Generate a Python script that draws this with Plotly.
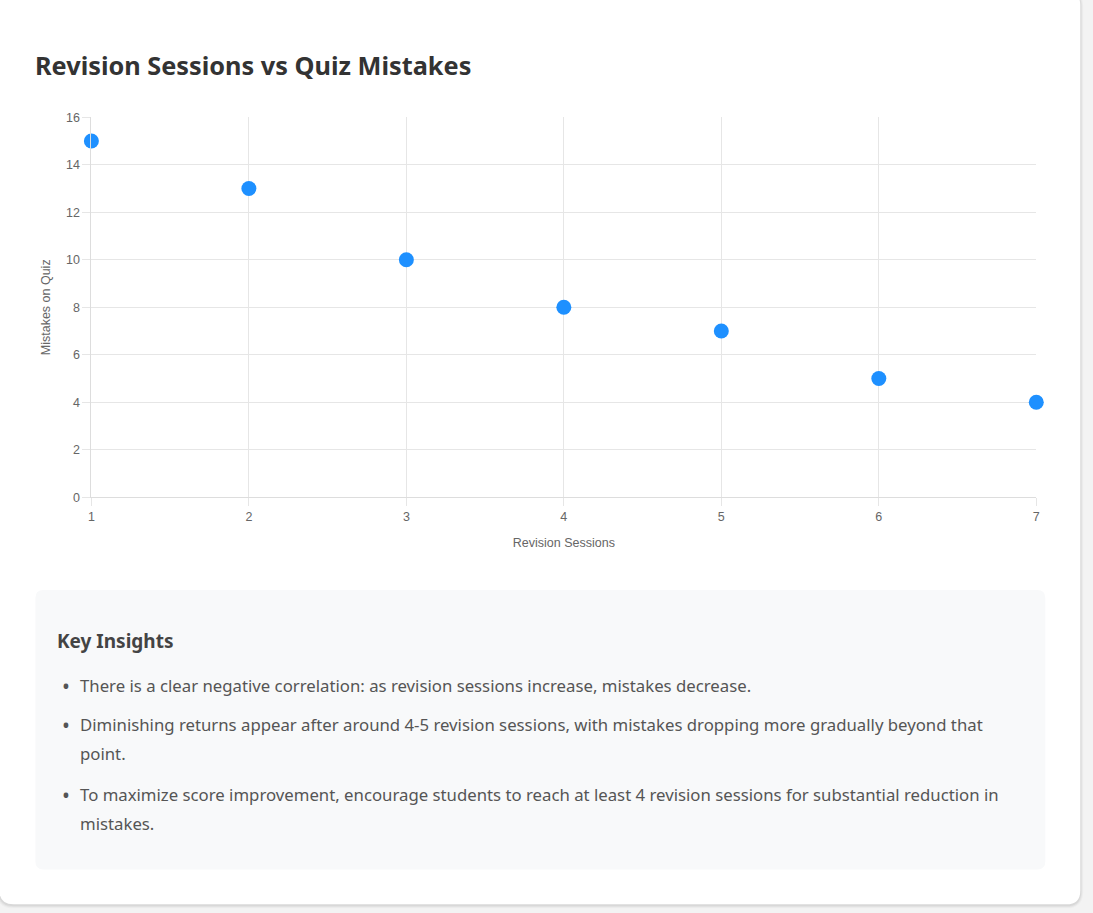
import plotly.graph_objects as go

W, H = 1093, 913

sessions = [1, 2, 3, 4, 5, 6, 7]
mistakes = [15, 13, 10, 8, 7, 5, 4]

title_text = "Revision Sessions vs Quiz Mistakes"
x_title = "Revision Sessions"
y_title = "Mistakes on Quiz"
insights_title = "Key Insights"
insights = [
    ["There is a clear negative correlation: as revision sessions increase, mistakes decrease."],
    ["Diminishing returns appear after around 4-5 revision sessions, with mistakes dropping more gradually beyond that",
     "point."],
    ["To maximize score improvement, encourage students to reach at least 4 revision sessions for substantial reduction in",
     "mistakes."],
]

# empirical correction of the rendering transform
AX, BX = 0.9937, 2.6
AY, BY = 0.987, 5.5


def px(x):
    return ((x - BX) / AX) / W


def py(y):
    return 1 - ((y - BY) / AY) / H


def rrect(x0, y0, x1, y1, r):
    pts = [
        f"M {px(x0 + r)},{py(y0)}",
        f"L {px(x1 - r)},{py(y0)}",
        f"Q {px(x1)},{py(y0)} {px(x1)},{py(y0 + r)}",
        f"L {px(x1)},{py(y1 - r)}",
        f"Q {px(x1)},{py(y1)} {px(x1 - r)},{py(y1)}",
        f"L {px(x0 + r)},{py(y1)}",
        f"Q {px(x0)},{py(y1)} {px(x0)},{py(y1 - r)}",
        f"L {px(x0)},{py(y0 + r)}",
        f"Q {px(x0)},{py(y0)} {px(x0 + r)},{py(y0)}",
        "Z",
    ]
    return " ".join(pts)


fig = go.Figure()
fig.add_trace(go.Scatter(
    x=sessions, y=mistakes, mode="markers",
    marker=dict(size=15, color="#1e90ff", line=dict(width=0)),
    showlegend=False, cliponaxis=False,
))

shapes = []
# card shadow
for i, op in enumerate([0.025, 0.035, 0.05]):
    d = 3 - i
    shapes.append(dict(type="path", xref="paper", yref="paper", layer="below",
                       path=rrect(-1 - d, -10 - d + 1, 1080 + d, 905 + d + 1, 14 + d),
                       fillcolor=f"rgba(0,0,0,{op})", line=dict(width=0)))
shapes.append(dict(type="path", xref="paper", yref="paper", layer="below",
                   path=rrect(-1, -10, 1080, 905, 14),
                   fillcolor="#ffffff", line=dict(width=0)))
# insights box
shapes.append(dict(type="path", xref="paper", yref="paper", layer="below",
                   path=rrect(35, 590, 1045, 870, 8),
                   fillcolor="#f8f9fa", line=dict(width=0)))

annotations = []
annotations.append(dict(text=f"<b>{title_text}</b>", x=px(33), y=py(64), xref="paper", yref="paper",
                        xanchor="left", yanchor="middle", showarrow=False,
                        font=dict(family="Noto Sans", size=25.3, color="#333333")))
annotations.append(dict(text=f"<b>{insights_title}</b>", x=px(55), y=py(641), xref="paper", yref="paper",
                        xanchor="left", yanchor="middle", showarrow=False,
                        font=dict(family="Noto Sans", size=19, color="#444444")))

line_ys = [[686], [725, 754], [795, 824]]
for item, ys in zip(insights, line_ys):
    annotations.append(dict(text="•", x=px(60), y=py(ys[0]), xref="paper", yref="paper",
                            xanchor="left", yanchor="middle", showarrow=False,
                            font=dict(family="Noto Sans", size=21, color="#555555")))
    for line, yy in zip(item, ys):
        annotations.append(dict(text=line, x=px(78), y=py(yy), xref="paper", yref="paper",
                                xanchor="left", yanchor="middle", showarrow=False,
                                font=dict(family="Noto Sans", size=16.75, color="#555555")))

axis_font = dict(family="Liberation Sans, Arial", size=12.5, color="#666666")
fig.update_layout(
    width=W, height=H,
    margin=dict(l=0, r=0, t=0, b=0),
    paper_bgcolor="#f3f3f3",
    plot_bgcolor="rgba(0,0,0,0)",
    shapes=shapes,
    annotations=annotations,
    xaxis=dict(
        domain=[px(91), px(1036)], range=[1, 7], tickmode="array", tickvals=sessions,
        showgrid=True, gridcolor="#e6e6e6", gridwidth=1, zeroline=False,
        showline=True, linecolor="#dddddd", linewidth=1,
        ticks="outside", ticklen=8, tickcolor="#e6e6e6",
        tickfont=axis_font,
        title=dict(text=x_title, font=axis_font, standoff=14),
    ),
    yaxis=dict(
        domain=[py(497), py(116)], range=[0, 16], tickmode="array", tickvals=list(range(0, 17, 2)),
        showgrid=True, gridcolor="#e6e6e6", gridwidth=1, zeroline=False,
        showline=True, linecolor="#dddddd", linewidth=1,
        ticks="outside", ticklen=8, tickcolor="#e6e6e6",
        tickfont=axis_font,
        title=dict(text=y_title, font=axis_font, standoff=12),
    ),
)

fig.write_html("out.html")
